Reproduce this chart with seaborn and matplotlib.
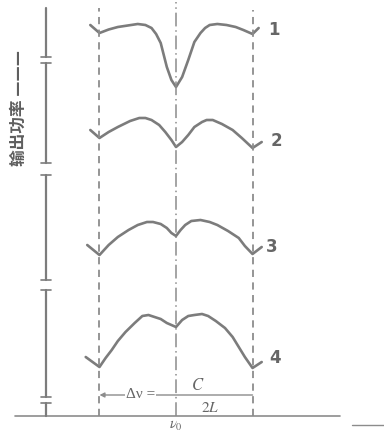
import numpy as np
import pandas as pd
import matplotlib
matplotlib.use("Agg")
import matplotlib.pyplot as plt
import seaborn as sns

# ---- data (frequency offset in units of delta-nu, output power in arbitrary units) ----
mode_names = ["1", "2", "3", "4"]

x1 = [-0.56, -0.50, -0.44, -0.38, -0.25, -0.20, -0.16, -0.13, -0.10, -0.06, -0.03, 0.00,
      0.04, 0.08, 0.12, 0.16, 0.19, 0.22, 0.27, 0.33, 0.39, 0.44, 0.50, 0.54]
p1 = [3.91, 3.83, 3.865, 3.89, 3.92, 3.91, 3.88, 3.82, 3.73, 3.49, 3.36, 3.29,
      3.39, 3.56, 3.74, 3.83, 3.88, 3.91, 3.92, 3.91, 3.89, 3.86, 3.82, 3.88]

x2 = [-0.56, -0.50, -0.44, -0.38, -0.30, -0.24, -0.20, -0.16, -0.11, -0.07, -0.03, 0.00,
      0.04, 0.08, 0.12, 0.17, 0.20, 0.24, 0.30, 0.37, 0.43, 0.50, 0.56]
p2 = [2.86, 2.78, 2.84, 2.89, 2.95, 2.98, 2.98, 2.96, 2.91, 2.84, 2.76, 2.69,
      2.74, 2.81, 2.89, 2.94, 2.96, 2.96, 2.92, 2.86, 2.78, 2.68, 2.74]

x3 = [-0.58, -0.50, -0.44, -0.38, -0.31, -0.25, -0.19, -0.15, -0.10, -0.06, -0.03, 0.00,
      0.03, 0.06, 0.10, 0.16, 0.22, 0.27, 0.34, 0.41, 0.45, 0.50, 0.56]
p3 = [1.71, 1.61, 1.71, 1.79, 1.86, 1.91, 1.94, 1.94, 1.92, 1.88, 1.83, 1.80,
      1.86, 1.91, 1.95, 1.96, 1.94, 1.91, 1.85, 1.78, 1.70, 1.62, 1.69]

x4 = [-0.59, -0.50, -0.46, -0.42, -0.38, -0.33, -0.27, -0.22, -0.18, -0.14, -0.10, -0.06, 0.00,
      0.04, 0.08, 0.12, 0.17, 0.21, 0.26, 0.32, 0.37, 0.41, 0.45, 0.50, 0.56]
p4 = [0.59, 0.49, 0.58, 0.66, 0.75, 0.84, 0.93, 1.00, 1.01, 0.99, 0.97, 0.93, 0.89,
      0.96, 1.00, 1.01, 1.02, 1.00, 0.95, 0.88, 0.79, 0.69, 0.59, 0.48, 0.54]

label_pos_x = [0.60, 0.62, 0.59, 0.61]
label_pos_y = [3.86, 2.75, 1.69, 0.58]

ylabel_text = "输出功率 ———"
delta_text = "Δν ="
c_text = "$C$"
twoL_text = "$2L$"
nu0_text = r"$\nu_0$"

# ---- build long table ----
frames = []
for name, xs, ps in zip(mode_names, [x1, x2, x3, x4], [p1, p2, p3, p4]):
    frames.append(pd.DataFrame({"freq": xs, "power": ps, "mode": name}))
df = pd.concat(frames, ignore_index=True)

sns.set_style("white")
plt.rcParams['font.family'] = ['Noto Sans CJK SC', 'DejaVu Sans']
plt.rcParams['mathtext.fontset'] = 'stix'

fig = plt.figure(figsize=(3.84, 4.33), dpi=100)
ax = fig.add_axes([0, 0, 1, 1])
ax.set_xlim(-1.150, 1.359)
ax.set_ylim(-0.17, 4.16)
ax.axis("off")

curve_col = "#7c7c7c"
line_col = "#8c8c8c"
text_col = "#666666"

sns.lineplot(data=df, x="freq", y="power", hue="mode", units="mode",
             estimator=None, sort=False, palette=[curve_col] * 4,
             linewidth=1.9, legend=False, ax=ax)

# vertical reference lines
ax.plot([-0.5, -0.5], [0.0, 4.08], color=line_col, lw=1.3, dashes=(4, 3))
ax.plot([0.5, 0.5], [0.0, 4.06], color=line_col, lw=1.3, dashes=(4, 3))
ax.plot([0.0, 0.0], [0.0, 4.14], color=line_col, lw=1.1, dashes=(9, 2.5, 1, 2.5))

# baseline (frequency axis)
ax.plot([-1.05, 1.07], [0.0, 0.0], color=line_col, lw=1.2)
ax.plot([1.15, 1.36], [-0.09, -0.09], color=line_col, lw=1.0)

# broken vertical power axis
axx = -0.85
segs = [(4.08, 3.59), (3.53, 2.53), (2.41, 1.36), (1.26, 0.19), (0.13, 0.0)]
for top, bot in segs:
    ax.plot([axx, axx], [bot, top], color=curve_col, lw=1.6)
for top, bot in segs[1:]:
    ax.plot([axx - 0.03, axx + 0.03], [top, top], color=curve_col, lw=1.2)
for top, bot in segs[:-1]:
    ax.plot([axx - 0.03, axx + 0.03], [bot, bot], color=curve_col, lw=1.2)

# y label
ax.text(-1.03, 3.08, ylabel_text, rotation=90, ha="center", va="center",
        fontsize=12, fontweight="bold", color="#5e5e5e")

# mode labels
for name, lx, ly in zip(mode_names, label_pos_x, label_pos_y):
    ax.text(lx, ly, name, ha="left", va="center", fontsize=12, color=text_col,
            fontweight="bold", family=["DejaVu Sans"])

# delta-nu annotation
ay = 0.21
ax.annotate("", xy=(-0.5, ay), xytext=(0.5, ay),
            arrowprops=dict(arrowstyle="-|>", color=line_col, lw=1.0,
                            shrinkA=0, shrinkB=0, mutation_scale=7))
ax.text(-0.23, ay, delta_text, ha="center", va="center", fontsize=11,
        color=text_col, family=["Liberation Serif", "DejaVu Serif"],
        bbox=dict(facecolor="white", edgecolor="none", pad=0.5))
ax.text(0.14, 0.30, c_text, ha="center", va="center", fontsize=12, color=text_col)
ax.text(0.22, 0.08, twoL_text, ha="center", va="center", fontsize=11, color=text_col)
ax.text(0.0, -0.095, nu0_text, ha="center", va="center", fontsize=10.5, color=text_col)

fig.savefig("out.png", dpi=100, facecolor="white")
